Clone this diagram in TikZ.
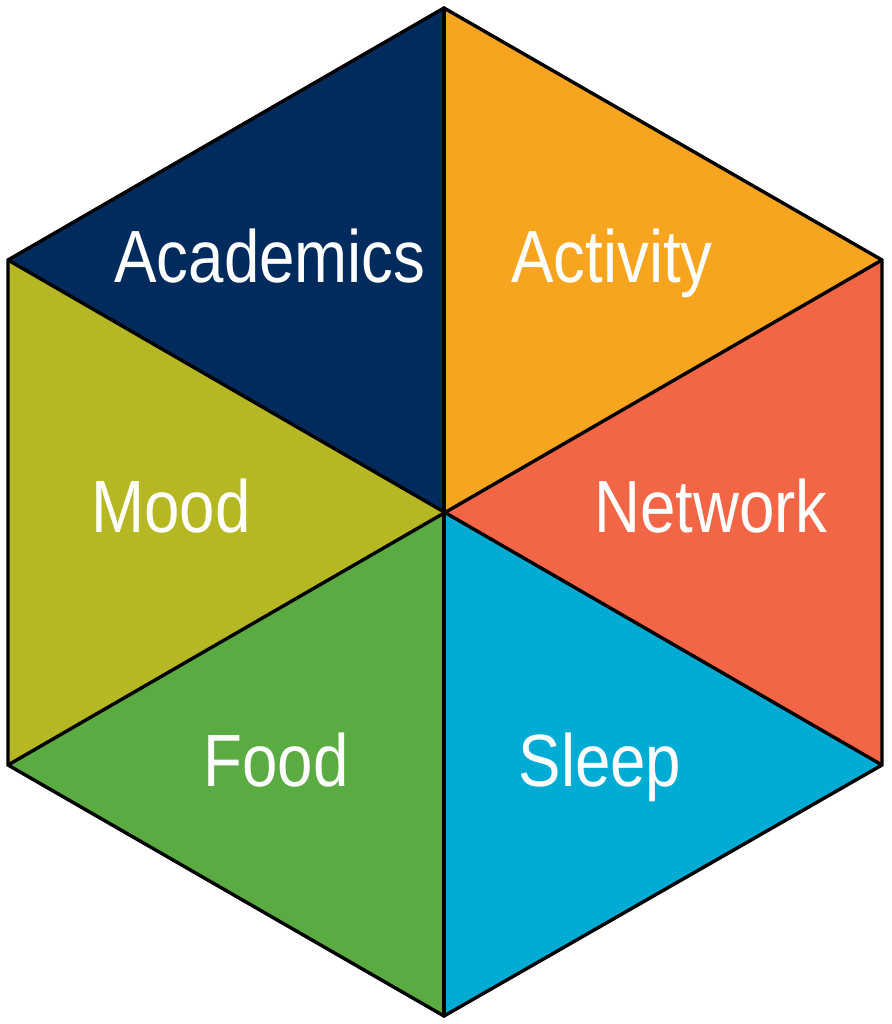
\documentclass[tikz,border=0pt]{standalone}
\usepackage{fontspec}
\setmainfont{Liberation Sans}[FakeStretch=0.86]
\definecolor{cacad}{HTML}{002B5C}
\definecolor{cact}{HTML}{F7A51E}
\definecolor{cnet}{HTML}{F26645}
\definecolor{csleep}{HTML}{00ABD4}
\definecolor{cfood}{HTML}{5AAB42}
\definecolor{cmood}{HTML}{B5B823}
\begin{document}
\begin{tikzpicture}[x=0.5pt,y=-0.5pt,
  seg/.style={draw=black,line width=1.7pt,line join=miter},
  lbl/.style={text=white,font=\fontsize{37}{40}\selectfont,anchor=base,inner sep=0pt}]
\useasboundingbox (0,0) rectangle (892,1024);
\coordinate (C) at (444,512);
\coordinate (T) at (444,8);
\coordinate (UR) at (882,260);
\coordinate (LR) at (882,765);
\coordinate (B) at (444,1016);
\coordinate (LL) at (8,765);
\coordinate (UL) at (8,260);
\fill[cacad] (C) -- (UL) -- (T) -- cycle;
\fill[cact] (C) -- (T) -- (UR) -- cycle;
\fill[cnet] (C) -- (UR) -- (LR) -- cycle;
\fill[csleep] (C) -- (LR) -- (B) -- cycle;
\fill[cfood] (C) -- (B) -- (LL) -- cycle;
\fill[cmood] (C) -- (LL) -- (UL) -- cycle;
\draw[seg] (T) -- (UR) -- (LR) -- (B) -- (LL) -- (UL) -- cycle;
\draw[seg] (T) -- (B);
\draw[seg] (UL) -- (LR);
\draw[seg] (UR) -- (LL);
\node[lbl] (academics) at (270,282) {Academics};
\node[lbl] (activity) at (612,282) {Activity};
\node[lbl] (mood) at (171,532) {Mood};
\node[lbl] (network) at (711,532) {Network};
\node[lbl] (food) at (276,786) {Food};
\node[lbl] (sleep) at (600,786) {Sleep};
\end{tikzpicture}
\end{document}
